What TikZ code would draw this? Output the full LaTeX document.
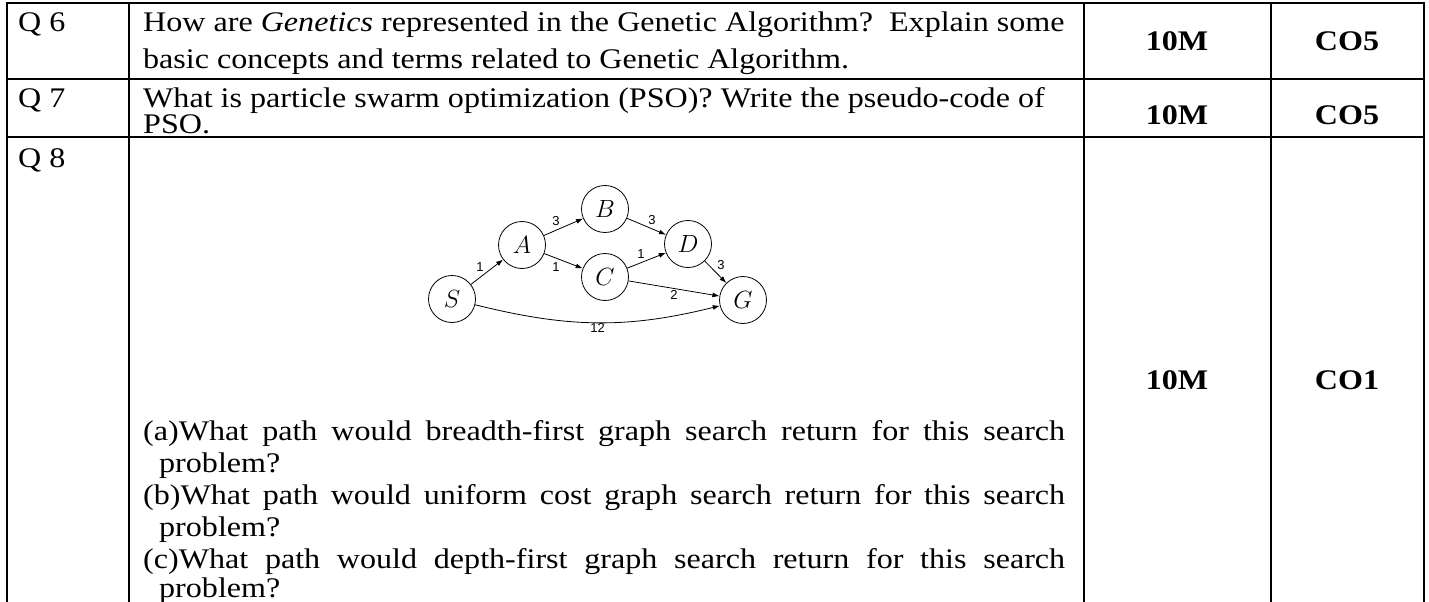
\documentclass[tikz,border=0pt]{standalone}
\usepackage{fontspec}
\setmainfont{Liberation Serif}[FakeStretch=1.13]
\newfontfamily\lsans{Liberation Sans}
\usetikzlibrary{arrows.meta}
\begin{document}
\begin{tikzpicture}[x=1pt,y=-1pt,
  grid/.style={line width=2pt, line cap=rect},
  txt/.style={anchor=base west, inner sep=0pt, font=\fontsize{28.4}{32}\selectfont},
  markbox/.style={inner sep=0pt, font=\fontsize{28.4}{32}\selectfont\bfseries},
  gnode/.style={circle, draw, line width=0.8pt, minimum size=47pt, inner sep=0pt, font=\fontsize{24}{28}\selectfont},
  edge/.style={-{Latex[length=7pt,width=5pt]}, line width=0.8pt},
  elab/.style={font=\lsans\fontsize{13}{15}\selectfont, inner sep=1.5pt}]
\useasboundingbox (0,0) rectangle (1429,602);
% table rules
\draw[grid] (7,3) -- (1424,3);
\draw[grid] (7,79) -- (1424,79);
\draw[grid] (7,137) -- (1424,137);
\draw[grid] (7,3) -- (7,602);
\draw[grid] (129,3) -- (129,602);
\draw[grid] (1084,3) -- (1084,602);
\draw[grid] (1271,3) -- (1271,602);
\draw[grid] (1424,3) -- (1424,602);
% Q6
\node[txt] (q6) at (18,32) {Q 6};
\node[txt] (q6a) at (143,32) {How are \textit{Genetics} represented in the Genetic Algorithm?\ \ Explain some};
\node[txt] (q6b) at (143,68) {basic concepts and terms related to Genetic Algorithm.};
\node[markbox] (m6) at (1177,41) {10M};
\node[markbox] (c6) at (1347,41) {CO5};
% Q7
\node[txt] (q7) at (18,107.5) {Q 7};
\node[txt] (q7a) at (143,107.5) {What is particle swarm optimization (PSO)? Write the pseudo-code of};
\node[txt] (q7b) at (143,133) {PSO.};
\node[markbox] (m7) at (1177,115) {10M};
\node[markbox] (c7) at (1347,115) {CO5};
% Q8
\node[txt] (q8) at (18,167) {Q 8};
\node[markbox] (m8) at (1177,380) {10M};
\node[markbox] (c8) at (1347,380) {CO1};
% graph
\node[gnode] (S) at (452,299) {$S$};
\node[gnode] (A) at (522,245) {$A$};
\node[gnode] (B) at (605,209) {$B$};
\node[gnode] (C) at (605,277) {$C$};
\node[gnode] (D) at (688,244) {$D$};
\node[gnode] (G) at (743,300) {$G$};
\draw[edge] (S) -- node[elab, above left, pos=0.45] {1} (A);
\draw[edge] (A) -- node[elab, above left, pos=0.45] {3} (B);
\draw[edge] (A) -- node[elab, below left, pos=0.45] {1} (C);
\draw[edge] (B) -- node[elab, above right, pos=0.5] {3} (D);
\draw[edge] (C) -- node[elab, above left, pos=0.5] {1} (D);
\draw[edge] (D) -- node[elab, above right, pos=0.5] {3} (G);
\draw[edge] (C) -- node[elab, below, pos=0.5] {2} (G);
\draw[edge] (S) to[out=-14,in=194] node[elab, below, pos=0.5, inner sep=0.5pt] {12} (G);
% sub-questions
\node[txt] (qa1) at (143,440) {\makebox[922pt][s]{(a)What path would breadth-first graph search return for this search}};
\node[txt] (qa2) at (159,472) {problem?};
\node[txt] (qb1) at (143,504) {\makebox[922pt][s]{(b)What path would uniform cost graph search return for this search}};
\node[txt] (qb2) at (159,536) {problem?};
\node[txt] (qc1) at (143,568) {\makebox[922pt][s]{(c)What path would depth-first graph search return for this search}};
\node[txt] (qc2) at (159,597) {problem?};
\end{tikzpicture}
\end{document}
